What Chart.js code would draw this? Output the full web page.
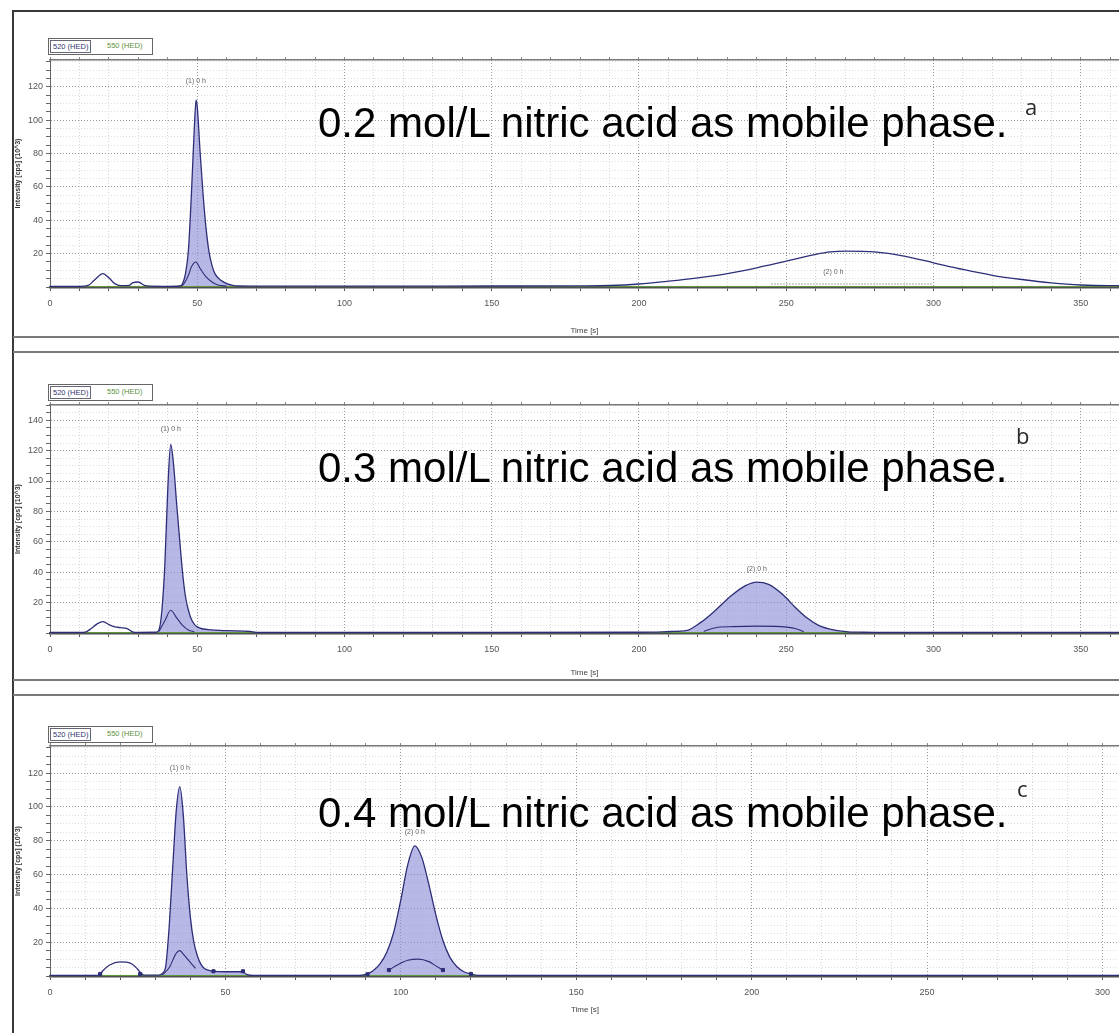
<!DOCTYPE html>
<html>
<head>
<meta charset="utf-8">
<title>Chromatograms - nitric acid mobile phase</title>
<script src="https://cdn.jsdelivr.net/npm/chart.js@4.4.0/dist/chart.umd.min.js"></script>
<style>
  html, body { margin: 0; padding: 0; background: #fff; }
  body { position: relative; width: 1119px; height: 1033px; overflow: hidden; font-family: "Liberation Sans", Arial, sans-serif; }
  .frame { position: absolute; left: 12px; top: 10px; width: 1200px; height: 1100px; border-left: 2px solid #3a3a3a; border-top: 2px solid #3a3a3a; }
  .sep { position: absolute; left: 13px; width: 1106px; height: 0; border-top: 2px solid #7a7a7a; }
  canvas { position: absolute; left: 14px; }
  .legend { position: absolute; left: 48px; width: 103px; height: 15px; border: 1px solid #666; background: #fff; font-size: 7.5px; line-height: 11px; }
  .legend span { position: absolute; top: 1px; padding: 0 2px; white-space: nowrap; }
  .legend .s1 { left: 1px; border: 1px solid #667; color: #33336f; }
  .legend .s2 { left: 56px; color: #5d8f3b; }
  .note { position: absolute; left: 318px; font-size: 42px; line-height: 42px; color: #000; white-space: nowrap; }
  .tag { position: absolute; font-family: "Open Sans", "DejaVu Sans", sans-serif; font-size: 22px; line-height: 22px; color: #2a2a2a; }
</style>
</head>
<body>
<div class="frame"></div>
<div class="sep" style="top:336px"></div>
<div class="sep" style="top:351px"></div>
<div class="sep" style="top:679px"></div>
<div class="sep" style="top:694px"></div>

<canvas id="chartA" width="1105" height="324" style="top:12px"></canvas>
<canvas id="chartB" width="1105" height="325" style="top:353px"></canvas>
<canvas id="chartC" width="1111" height="337" style="top:696px"></canvas>

<div class="legend" style="top:38px"><span class="s1">520 (HED)</span><span class="s2">550 (HED)</span></div>
<div class="legend" style="top:384px"><span class="s1">520 (HED)</span><span class="s2">550 (HED)</span></div>
<div class="legend" style="top:726px"><span class="s1">520 (HED)</span><span class="s2">550 (HED)</span></div>

<div class="note" style="top:102px">0.2 mol/L nitric acid as mobile phase.</div>
<div class="note" style="top:447px">0.3 mol/L nitric acid as mobile phase.</div>
<div class="note" style="top:792px">0.4 mol/L nitric acid as mobile phase.</div>
<div class="tag" style="left:1025px;top:95px">a</div>
<div class="tag" style="left:1016px;top:424px">b</div>
<div class="tag" style="left:1017px;top:777px">c</div>

<script>

// --- panel a: 0.2 mol/L ---
const traceA = [[0,0.4],[10,0.4],[13,1],[15,4],[18,8],[20,5.5],[22,2],[24,0.8],[27,1],[28,2.5],[30,3],[32,1],[34,0.5],
  [40,0.4],[44,0.6],[45,2],[46,8],[47,22],[48,55],[49,95],[49.6,112],[50,108],[51,80],[52,55],[53,35],[54,21],[55,13],
  [56,8],[58,4],[60,2],[62,1],[64,0.6],[70,0.5],[100,0.5],[150,0.6],[180,0.7],[190,0.9],[200,1.8],[210,3.5],[220,5.5],
  [230,8],[240,11.5],[250,15.5],[260,19.5],[265,21],[270,21.5],[280,21],[290,18.5],[300,14.5],[310,10.5],[320,7],
  [330,4.5],[340,2.5],[350,1.2],[360,0.8],[363,0.8]];
const innerA = [[[44,0.5],[45,1],[47,7],[48,12],[49.5,15],[51,11],[53,6],[55,3],[57,1.2],[60,0.5]]];
const dottedA = [[245,1.8],[300,1.8]];
const greenA = [[0,0.3],[363,0.3]];
const fillsA = [[44,64]];
const tagsA = [[49.5,121,'(1) 0 h'],[266,7,'(2) 0 h']];

// --- panel b: 0.3 mol/L ---
const traceB = [[0,0.4],[10,0.4],[12,0.6],[14,3],[16,6],[18,7.5],[20,5.5],[22,4],[24,3.5],[26,3],[28,0.8],[30,0.4],
  [36,0.5],[37,2],[38,15],[39,45],[40,95],[41,124],[42,110],[43,85],[44,62],[45,40],[46,24],[47,15],[48,9],[50,4],
  [55,2],[60,1.5],[68,1],[70,0.4],[150,0.4],[200,0.5],[205,0.6],[211,1],[216,1.5],[221,7],[226,15],[231,24],[236,31],
  [240,33.5],[244,32],[249,25],[253,17],[257,10],[261,5],[266,2],[271,0.8],[276,0.5],[280,0.4],[363,0.4]];
const innerB = [[[37,1],[39,8],[41,15],[43,10],[45,5],[47,2],[49,0.8]],
  [[222,1],[226,3.5],[232,4.2],[240,4.5],[248,4.2],[253,3],[256,1]]];
const greenB = [[0,0.3],[363,0.3]];
const fillsB = [[36,70],[203,276]];
const tagsB = [[41,132,'(1) 0 h'],[240,40,'(2) 0 h']];

// --- panel c: 0.4 mol/L ---
const traceC = [[0,0.3],[10,0.3],[14,0.5],[15,3],[17,6.5],[20,8.3],[23,7.5],[25,4],[26,1.5],[27,0.5],[31,0.5],[32,1.5],
  [33,6],[34,30],[35,65],[36,98],[37,112],[38,95],[39,60],[40,35],[41,20],[42,12],[43,7],[44,4.5],[46,3],[50,2.5],
  [55,2.5],[56,1],[58,0.3],[88,0.3],[90,1],[92,3],[94,7],[96,14],[98,26],[100,45],[102,66],[104,77],[106,70],[108,54],
  [110,36],[112,21],[114,11],[116,5.5],[118,2.5],[120,1.2],[122,0.4],[305,0.3]];
const innerC = [[[32,0.5],[34,5],[36,13.5],[37,15],[38,13],[40,8],[41.5,4.5]],
  [[96.6,3.5],[99,6.5],[102,9.3],[105,10],[108,8.5],[110,6],[112,3.5]]];
const marksC = [[14.3,1.2],[25.7,1.2],[46.6,2.8],[55,2.8],[90.5,1],[96.6,3.5],[112,3.5],[120,1.2]];
const greenC = [[0,0.3],[305,0.3]];
const fillsC = [[32,58],[88,122]];
const tagsC = [[37,121,'(1) 0 h'],[104,83,'(2) 0 h']];

const NAVY = '#2e2e78';
const GREEN = '#5d9a3a';
const FILL = 'rgba(140,140,215,0.62)';

Chart.defaults.font.family = '"Liberation Sans", Arial, sans-serif';

// etiquetas de pico
const peakTags = {
  id: 'peakTags',
  afterDatasetsDraw(chart, args, opts) {
    const {ctx, scales: {x, y}} = chart;
    ctx.save();
    ctx.font = '7px "Liberation Sans", Arial';
    ctx.fillStyle = '#666';
    ctx.textAlign = 'center';
    ctx.textBaseline = 'bottom';
    (opts.tags || []).forEach(([t, v, txt]) => ctx.fillText(txt, x.getPixelForValue(t), y.getPixelForValue(v)));
    ctx.restore();
  }
};

const pts = arr => arr.map(([x, y]) => ({x, y}));
const inRange = (arr, lo, hi) => arr.filter(([t]) => t >= lo && t <= hi);

function buildChart(id, p) {
  const datasets = [];
  if (p.marks) {
    datasets.push({ type: 'scatter', data: pts(p.marks), pointStyle: 'rect', pointRadius: 2.2,
      backgroundColor: NAVY, borderColor: NAVY });
  }
  datasets.push({ label: '520 (HED)', data: pts(p.trace), borderColor: NAVY, borderWidth: 1.3,
    pointRadius: 0, fill: false, cubicInterpolationMode: 'monotone' });
  p.inner.forEach(seg => datasets.push({ data: pts(seg), borderColor: NAVY, borderWidth: 1.1,
    pointRadius: 0, fill: false, cubicInterpolationMode: 'monotone' }));
  if (p.dotted) {
    datasets.push({ data: pts(p.dotted), borderColor: '#555', borderWidth: 1, borderDash: [1, 2],
      pointRadius: 0, fill: false });
  }
  datasets.push({ label: '550 (HED)', data: pts(p.green), borderColor: GREEN, borderWidth: 1,
    pointRadius: 0, fill: false });
  p.fills.forEach(([lo, hi]) => datasets.push({ data: pts(inRange(p.trace, lo, hi)), borderWidth: 0,
    backgroundColor: FILL, fill: 'origin', pointRadius: 0, cubicInterpolationMode: 'monotone' }));

  return new Chart(document.getElementById(id), {
    type: 'line',
    data: { datasets },
    plugins: [peakTags],
    options: {
      responsive: false,
      animation: false,
      layout: { padding: 0 },
      plugins: {
        legend: { display: false },
        tooltip: { enabled: false },
        peakTags: { tags: p.tags }
      },
      scales: {
        x: {
          type: 'linear', position: 'bottom', min: 0, max: p.xMax,
          afterFit: s => { s.height = p.bottom; s.paddingLeft = 0; s.paddingRight = 0; },
          ticks: {
            stepSize: 10, autoSkip: false, includeBounds: false, maxRotation: 0, padding: 7,
            color: '#555', font: { size: 9 },
            callback: v => (v % 50 === 0 ? v : '')
          },
          grid: {
            color: c => (c.tick && c.tick.value % 50 === 0 ? '#9a9a9a' : '#d6d6d6'),
            tickLength: 4, tickColor: '#555'
          },
          border: { display: true, color: '#505050', width: 2.5, dash: [1, 2] },
          title: { display: true, text: 'Time [s]', color: '#444', font: { size: 8 },
            padding: { top: 0, bottom: p.titlePad } }
        },
        xt: {
          type: 'linear', position: 'top', min: 0, max: p.xMax,
          afterFit: s => { s.height = p.top; s.paddingLeft = 0; s.paddingRight = 0; },
          ticks: { display: false, stepSize: 10, includeBounds: false, autoSkip: false },
          grid: { drawOnChartArea: false, tickLength: 3, tickColor: '#888' },
          border: { display: true, color: '#777', width: 1.5 }
        },
        y: {
          type: 'linear', position: 'left', min: 0, max: p.yMax,
          afterFit: s => { s.width = 36; },
          ticks: {
            stepSize: 5, autoSkip: false, includeBounds: false, padding: 3,
            color: '#555', font: { size: 9 },
            callback: v => (v > 0 && v % 20 === 0 ? v : '')
          },
          grid: {
            color: c => (c.tick && c.tick.value % 20 === 0 ? '#9a9a9a' : '#dedede'),
            tickLength: 4, tickColor: '#666'
          },
          border: { display: true, color: '#666', width: 1, dash: [1, 2] },
          title: { display: true, text: 'Intensity [cps] (10^3)', color: '#333',
            font: { size: 7, weight: 'bold' }, padding: 0 }
        }
      }
    }
  });
}

buildChart('chartA', { trace: traceA, inner: innerA, dotted: dottedA, green: greenA, fills: fillsA, tags: tagsA,
  xMax: 363, yMax: 136, top: 48, bottom: 49, titlePad: 0 });
buildChart('chartB', { trace: traceB, inner: innerB, green: greenB, fills: fillsB, tags: tagsB,
  xMax: 363, yMax: 150, top: 52, bottom: 45, titlePad: 0 });
buildChart('chartC', { trace: traceC, inner: innerC, marks: marksC, green: greenC, fills: fillsC, tags: tagsC,
  xMax: 305, yMax: 136, top: 50, bottom: 57, titlePad: 18 });
</script>
</body>
</html>
